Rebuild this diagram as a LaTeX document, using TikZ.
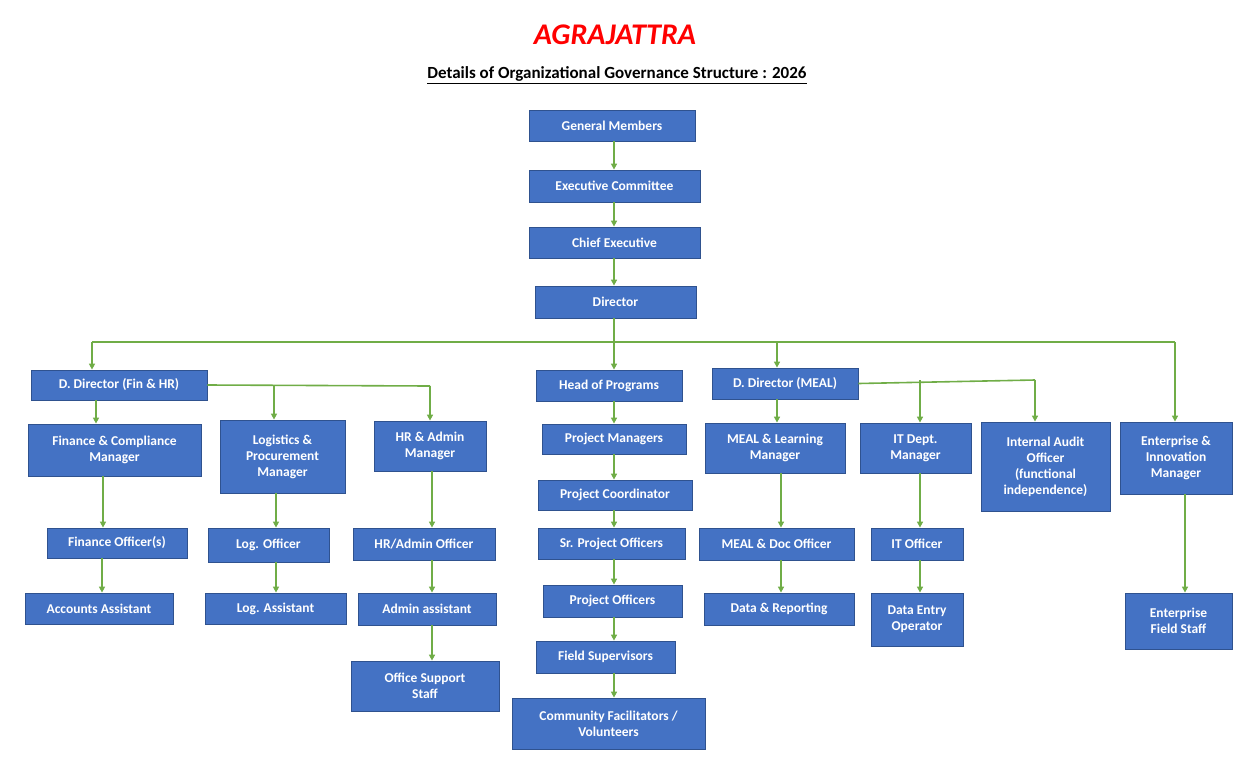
\documentclass[tikz,border=0pt]{standalone}
\usepackage{fontspec}
\setmainfont{Carlito}
\usetikzlibrary{arrows.meta}
\definecolor{bx}{HTML}{4472C4}
\definecolor{bd}{HTML}{2F528F}
\definecolor{gr}{HTML}{70AD47}
\begin{document}
\begin{tikzpicture}[x=1pt,y=-1pt,
 ln/.style={gr,line width=1.6pt},
 ar/.style={ln,-{Triangle[length=6pt,width=6pt]}}]
\useasboundingbox (0,0) rectangle (1240,777);
\newcommand{\bx}[6]{\node[draw=bd,line width=0.8pt,fill=bx,text=white,font=\fontsize{13.5}{16}\selectfont\bfseries,
  align=center,inner sep=0pt,minimum width={#4-#2},minimum height={#5-#3}] (#1) at ({(#2+#4)/2},{(#3+#5)/2}) {#6};}
\node[text=red,font=\fontsize{30}{32}\selectfont\bfseries\itshape] (t) at (615,35) {AGRAJATTRA};
\node[font=\fontsize{17}{20}\selectfont\bfseries] (st) at (617,75) {\underline{Details of Organizational Governance Structure : 2026}};
\bx{gm}{529}{110}{695}{141}{General Members}
\bx{ec}{529}{170}{700}{202}{Executive Committee}
\bx{ce}{529}{227}{700}{258}{Chief Executive}
\bx{di}{535}{286}{696}{318}{Director}
\bx{dfh}{31}{370}{207}{400}{D. Director (Fin \& HR)}
\bx{hp}{536}{370}{682}{401}{Head of Programs}
\bx{dm}{712}{368}{858}{399}{D. Director (MEAL)}
\bx{fcm}{28}{424}{201}{476}{Finance \& Compliance\\Manager}
\bx{lpm}{220}{420}{345}{493}{Logistics \&\\Procurement\\Manager}
\bx{ham}{374}{421}{486}{471}{HR \& Admin\\Manager}
\bx{pm}{542}{424}{686}{454}{Project Managers}
\bx{mlm}{705}{423}{845}{473}{MEAL \& Learning\\Manager}
\bx{itm}{860}{423}{971}{473}{IT Dept.\\Manager}
\bx{iao}{981}{422}{1110}{511}{Internal Audit\\Officer\\(functional\\independence)}
\bx{eim}{1120}{422}{1232}{494}{Enterprise \&\\Innovation\\Manager}
\bx{fo}{47}{528}{187}{558}{Finance Officer(s)}
\bx{lo}{208}{528}{329}{562}{Log. Officer}
\bx{hao}{353}{528}{495}{560}{HR/Admin Officer}
\bx{pc}{538}{480}{692}{510}{Project Coordinator}
\bx{spo}{538}{528}{685}{559}{Sr. Project Officers}
\bx{mdo}{699}{528}{854}{560}{MEAL \& Doc Officer}
\bx{ito}{871}{528}{963}{560}{IT Officer}
\bx{aa}{25}{593}{173}{624}{Accounts Assistant}
\bx{la}{205}{593}{346}{624}{Log. Assistant}
\bx{ada}{358}{593}{496}{625}{Admin assistant}
\bx{po}{543}{585}{682}{617}{Project Officers}
\bx{dr}{704}{593}{854}{625}{Data \& Reporting}
\bx{deo}{871}{593}{963}{646}{Data Entry\\Operator}
\bx{efs}{1125}{593}{1232}{649}{Enterprise\\Field Staff}
\bx{oss}{351}{661}{499}{711}{Office Support\\Staff}
\bx{fs}{536}{641}{675}{673}{Field Supervisors}
\bx{cf}{512}{698}{705}{749}{Community Facilitators /\\Volunteers}
% main chain
\draw[ar] (gm.south -| 614,0) -- (ec.north -| 614,0);
\draw[ar] (ec.south -| 614,0) -- (ce.north -| 614,0);
\draw[ar] (ce.south -| 614,0) -- (di.north -| 614,0);
\coordinate (hl) at (92,342); \coordinate (hr) at (1175,342);
\draw[ln] (di.south -| 614,0) -- (614,342);
\draw[ln] (hl) -- (hr);
\draw[ar] (hl) -- (dfh.north -| hl);
\draw[ar] (614,342) -- (hp.north -| 614,0);
\draw[ar] (777,342) -- (dm.north -| 777,0);
\draw[ar] (hr) -- (eim.north -| hr);
% Fin & HR
\draw[ar] (dfh.south -| 96,0) -- (fcm.north -| 96,0);
\draw[ln] (dfh.east) -- (430,386);
\draw[ar] (274,386) -- (lpm.north -| 274,0);
\draw[ar] (430,386) -- (ham.north -| 430,0);
\draw[ar] (fcm.south -| 103,0) -- (fo.north -| 103,0);
\draw[ar] (fo.south -| 102,0) -- (aa.north -| 102,0);
\draw[ar] (lpm.south -| 276,0) -- (lo.north -| 276,0);
\draw[ar] (lo.south -| 276,0) -- (la.north -| 276,0);
\draw[ar] (ham.south -| 432,0) -- (hao.north -| 432,0);
\draw[ar] (hao.south -| 432,0) -- (ada.north -| 432,0);
\draw[ar] (ada.south -| 432,0) -- (oss.north -| 432,0);
% programs
\draw[ar] (hp.south -| 614,0) -- (pm.north -| 614,0);
\draw[ar] (pm.south -| 614,0) -- (pc.north -| 614,0);
\draw[ar] (pc.south -| 614,0) -- (spo.north -| 614,0);
\draw[ar] (spo.south -| 614,0) -- (po.north -| 614,0);
\draw[ar] (po.south -| 614,0) -- (fs.north -| 614,0);
\draw[ar] (fs.south -| 614,0) -- (cf.north -| 614,0);
% MEAL
\draw[ar] (dm.south -| 777,0) -- (mlm.north -| 777,0);
\draw[ln] (dm.east) -- (1035,380);
\draw[ar] (920,380) -- (itm.north -| 920,0);
\draw[ar] (1035,380) -- (iao.north -| 1035,0);
\draw[ar] (mlm.south -| 781,0) -- (mdo.north -| 781,0);
\draw[ar] (mdo.south -| 781,0) -- (dr.north -| 781,0);
\draw[ar] (itm.south -| 920,0) -- (ito.north -| 920,0);
\draw[ar] (ito.south -| 920,0) -- (deo.north -| 920,0);
\draw[ar] (eim.south -| 1185,0) -- (efs.north -| 1185,0);
\end{tikzpicture}
\end{document}
